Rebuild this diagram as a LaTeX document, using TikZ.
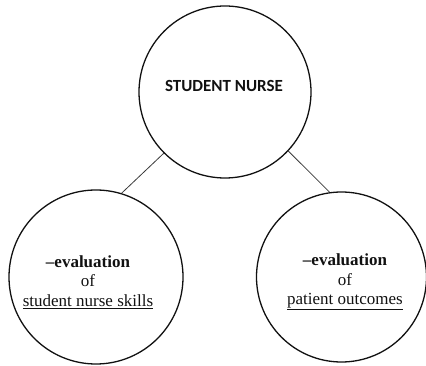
\documentclass[tikz,border=0pt]{standalone}
\usepackage{fontspec}
\setmainfont{Liberation Serif}
\newfontfamily\snsans{Carlito}
\definecolor{snInk}{HTML}{111111}
\definecolor{snLink}{HTML}{3A3A3A}
\tikzset{
  sn circle/.style={circle, draw=snInk, line width=1.3pt, inner sep=0pt},
  sn link/.style={draw=snLink, line width=0.8pt},
  sn title/.style={font=\snsans\bfseries\fontsize{17}{20}\selectfont, text=snInk},
  sn text/.style={font=\fontsize{17}{19.5}\selectfont, text=snInk, align=center},
}
\begin{document}
\begin{tikzpicture}[x=1pt, y=-1pt]
  \useasboundingbox (0,0) rectangle (426,366);
  % Three circles
  \node[sn circle, minimum size=172pt] (nurse) at (225,92) {};
  \node[sn circle, minimum size=174pt] (skills) at (96,277) {};
  \node[sn circle, minimum size=170pt] (outcomes) at (341.5,277) {};
  % Texts inside the circles
  \node[sn title] (nurse text) at (224,86) {STUDENT NURSE};
  \node[sn text] (skills text) at (88,282)
    {\textbf{--evaluation}\\of\\\underline{student nurse skills}};
  \node[sn text] (outcomes text) at (345,282)
    {\textbf{--evaluation}\\of\\\underline{patient outcomes}};
  % Connectors
  \draw[sn link] (nurse.225) -- (skills.73);
  \draw[sn link] (nurse.317) -- (outcomes.98);
\end{tikzpicture}
\end{document}
